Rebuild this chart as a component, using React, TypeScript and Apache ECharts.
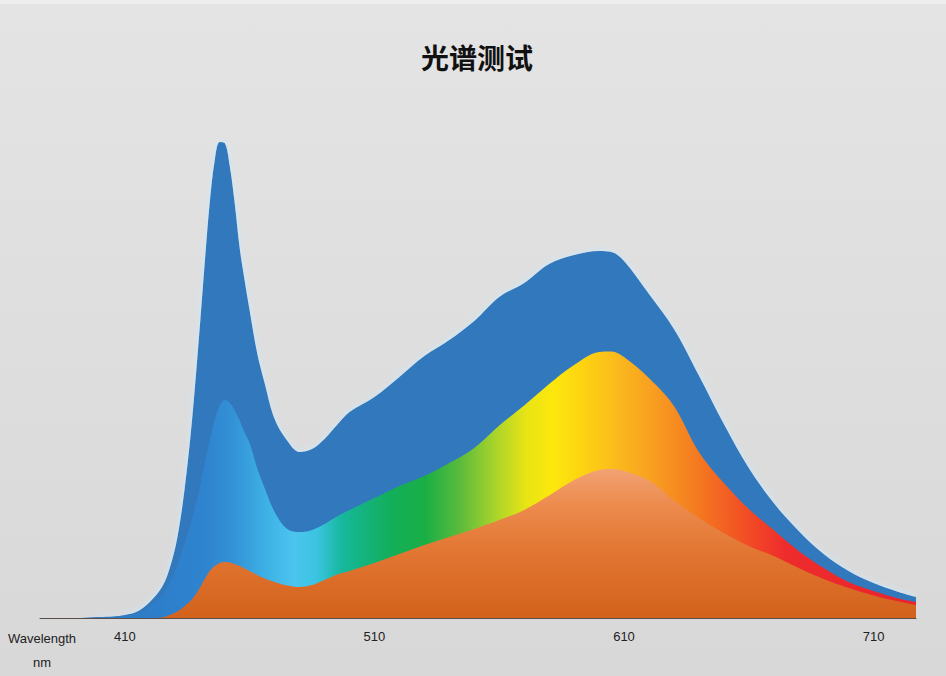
import React, { useEffect, useRef } from "react";
import * as echarts from "echarts";

const wavelengths = [376,380,390,400,405,410,415,420,425,428,431,434,437,440,442,444,446,448,450,452,454,456,458,460,463,466,470,475,480,485,490,495,500,510,520,530,540,550,560,570,580,590,600,605,610,620,630,640,650,660,670,680,690,700,710,720,727];

const totalSpectrum = [0,0,0,0.2,0.3,0.6,1.3,3.2,6.3,10,16,26,40,58,71,83,91.5,95.2,95,90.5,83,74,67.5,61.5,53,47,39.8,35.5,33.2,33.8,35.8,38.6,41.2,44.2,48.2,52.4,55.6,59.4,64.2,67,70.8,72.6,73.4,73.2,71.4,64.8,57.8,48.5,38.8,30,23,17.4,12.8,9.4,7,5.2,4.2];

const visibleSpectrum = [0,0,0,0.1,0.2,0.4,0.9,2.2,4.5,7,10.5,15,20,26,31,35.5,39.5,42.5,43.6,43,41.5,39.5,37,35,30,26,21.2,17.8,17.2,17.6,18.8,20.3,21.6,24,26.4,28.4,31,34,38.5,42.5,46.8,50.6,53.2,53.3,52.2,48,42.4,33.2,27,21.8,17.6,13.4,10,7.2,5.4,3.9,3.2];

const baseSpectrum = [0,0,0,0,0,0,0,0,0.1,0.6,1.3,2.4,3.8,6,7.8,9.4,10.4,11,11.2,11.1,10.8,10.4,9.9,9.4,8.6,7.9,7.2,6.5,6.2,6.6,7.6,8.7,9.4,11,12.8,14.6,16.2,17.8,19.6,21.6,24.5,27.6,29.6,29.8,29.4,27.5,23.5,20,17,14.4,12.4,10,7.8,6,4.5,3.3,2.6];

const tickValues = [410, 510, 610, 710];
const titleText = "光谱测试";
const axisNameLines = ["Wavelength", "nm"];

const pair = (vals: number[]) => wavelengths.map((w, i) => [w, vals[i]]);

export default function App() {
  const ref = useRef<HTMLDivElement>(null);
  useEffect(() => {
    if (!ref.current) return;
    const chart = echarts.init(ref.current, undefined, { renderer: "svg" });
    const font = "'Liberation Sans', Arial, sans-serif";
    chart.setOption({
      animation: false,
      backgroundColor: new echarts.graphic.LinearGradient(0, 0, 0, 1, [
        { offset: 0, color: "#e4e4e4" },
        { offset: 1, color: "#d8d8d8" },
      ]),
      graphic: [
        { type: "rect", left: 0, top: 0, shape: { width: 946, height: 4 }, style: { fill: "#eeeeee" }, z: -1 },
        {
          type: "text",
          x: 477,
          y: 57,
          style: {
            text: titleText,
            fontSize: 28,
            fontWeight: "bold",
            fontFamily: "'Noto Sans CJK SC', sans-serif",
            fill: "#111",
            align: "center",
            verticalAlign: "middle",
          },
        },
        {
          type: "text",
          x: 42,
          y: 638,
          style: { text: axisNameLines[0], fontSize: 13, fontFamily: font, fill: "#222", align: "center", verticalAlign: "middle" },
        },
        {
          type: "text",
          x: 42,
          y: 662,
          style: { text: axisNameLines[1], fontSize: 13, fontFamily: font, fill: "#222", align: "center", verticalAlign: "middle" },
        },
      ],
      grid: { left: 40, right: 30, top: 118, bottom: 58 },
      xAxis: {
        type: "value",
        min: 376,
        max: 727,
        axisLine: { show: true, lineStyle: { color: "#5a4e48", width: 1 } },
        axisTick: { show: false },
        splitLine: { show: false },
        axisLabel: {
          customValues: tickValues,
          color: "#222",
          fontSize: 13,
          fontFamily: font,
          margin: 12,
        },
      },
      yAxis: { type: "value", min: 0, max: 100, show: false, splitLine: { show: false } },
      series: [
        {
          type: "line",
          data: pair(totalSpectrum),
          smooth: 0.35,
          showSymbol: false,
          lineStyle: { width: 0 },
          areaStyle: {
            color: "#3078bd",
            opacity: 1,
            shadowBlur: 6,
            shadowColor: "rgba(200,235,255,0.95)",
          },
          z: 2,
        },
        {
          type: "line",
          data: pair(visibleSpectrum),
          smooth: 0.35,
          showSymbol: false,
          lineStyle: { width: 0 },
          areaStyle: {
            opacity: 1,
            color: new echarts.graphic.LinearGradient(0, 0, 1, 0, [
              { offset: 0, color: "#2d7bc6" },
              { offset: 0.12, color: "#2d7dc9" },
              { offset: 0.19, color: "#2f84cf" },
              { offset: 0.22, color: "#3392d6" },
              { offset: 0.26, color: "#3eb2e6" },
              { offset: 0.29, color: "#4bc5ef" },
              { offset: 0.315, color: "#3cc4e2" },
              { offset: 0.345, color: "#16b89c" },
              { offset: 0.4, color: "#12ae5a" },
              { offset: 0.44, color: "#1aaf45" },
              { offset: 0.48, color: "#5cbb3c" },
              { offset: 0.52, color: "#aad42a" },
              { offset: 0.555, color: "#e8e415" },
              { offset: 0.585, color: "#fce80c" },
              { offset: 0.62, color: "#fdd312" },
              { offset: 0.66, color: "#fbb91d" },
              { offset: 0.7, color: "#f89e20" },
              { offset: 0.75, color: "#f47a20" },
              { offset: 0.8, color: "#f25224" },
              { offset: 0.85, color: "#ef2c2c" },
              { offset: 1, color: "#e8242c" },
            ]),
          },
          z: 3,
        },
        {
          type: "line",
          data: pair(baseSpectrum),
          smooth: 0.35,
          showSymbol: false,
          lineStyle: { width: 0 },
          areaStyle: {
            opacity: 1,
            color: new echarts.graphic.LinearGradient(0, 0, 0, 1, [
              { offset: 0, color: "#f2a273" },
              { offset: 0.25, color: "#ec8a4c" },
              { offset: 0.55, color: "#e27632" },
              { offset: 1, color: "#d2621c" },
            ]),
          },
          z: 4,
        },
      ],
    });
    return () => chart.dispose();
  }, []);
  return <div ref={ref} style={{ position: "fixed", left: 0, top: 0, width: 946, height: 676 }} />;
}
